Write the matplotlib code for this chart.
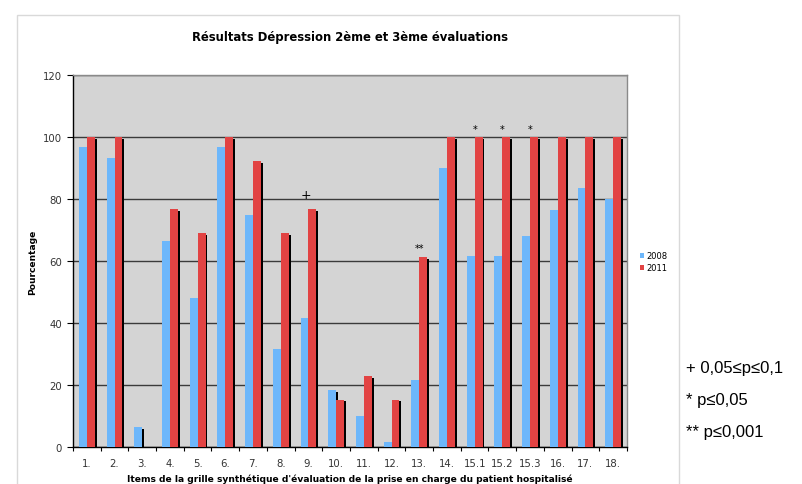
"""Résultats Dépression : comparaison 2008 / 2011 par item de la grille."""

import matplotlib

matplotlib.use("Agg")
import matplotlib.pyplot as plt
import numpy as np
from matplotlib.patches import Rectangle

items = ["1.", "2.", "3.", "4.", "5.", "6.", "7.", "8.", "9.", "10.",
         "11.", "12.", "13.", "14.", "15.1", "15.2", "15.3", "16.", "17.", "18."]
values_2008 = [96.7, 93.2, 6.3, 66.4, 48.2, 96.7, 74.9, 31.5, 41.7, 18.3,
               10.1, 1.7, 21.6, 89.9, 61.6, 61.6, 68.2, 76.6, 83.4, 80.0]
values_2011 = [100, 100, 0, 76.8, 69.1, 100, 92.2, 69.1, 76.8, 15.3,
               23.0, 15.3, 61.3, 100, 100, 100, 100, 100, 100, 100]
# marques de significativité : (item, symbole, hauteur)
signif_marks = [("9.", "+", 79.5), ("13.", "**", 62.5),
                ("15.1", "*", 101.0), ("15.2", "*", 101.0), ("15.3", "*", 101.0)]
signif_legend = ["+ 0,05≤p≤0,1", "* p≤0,05", "** p≤0,001"]

BLUE = "#6db7fb"
RED = "#e24343"
BG = "#d4d4d4"

fig = plt.figure(figsize=(8.03, 4.85), dpi=100)
fig.patches.append(Rectangle((17 / 803, -0.1), (679 - 17) / 803, 1.1 - 16 / 485,
                             transform=fig.transFigure, facecolor="none",
                             edgecolor="#d9d9d9", linewidth=1.0, zorder=0))

ax = fig.add_axes([73 / 803, 37 / 485, 554 / 803, 372 / 485])
ax.set_facecolor(BG)

x = np.arange(len(items)) + 0.5
width = 0.285
shadow_dx = 0.07

for offset, vals, color in ((-width / 2, values_2008, BLUE), (width / 2, values_2011, RED)):
    vals = np.array(vals, dtype=float)
    shadow = np.where(vals > 0, vals - 0.6, 0)
    ax.bar(x + offset + shadow_dx, shadow, width, color="black", zorder=2)
    ax.bar(x + offset, vals, width, color=color, zorder=3,
           label="2008" if color == BLUE else "2011")

for item, symbol, y in signif_marks:
    i = items.index(item)
    ax.text(x[i] - (0.1 if symbol == "+" else 0), y, symbol, ha="center", va="bottom",
            fontsize=9 if symbol == "+" else 7, color="black", zorder=4)

ax.set_xlim(0, len(items))
ax.set_ylim(0, 120)
ax.set_yticks(range(0, 121, 20))
ax.yaxis.grid(True, color="#3a3a3a", linewidth=1.0, zorder=1)
ax.set_axisbelow(True)

ax.set_xticks(np.arange(len(items) + 1), minor=False)
ax.set_xticklabels([])
ax.set_xticks(x, minor=True)
ax.set_xticklabels(items, minor=True, fontsize=7.3, color="#333333")
ax.tick_params(axis="x", which="minor", length=0, pad=8)
ax.tick_params(axis="x", which="major", length=3, direction="out", color="black")
ax.tick_params(axis="y", length=4, direction="out", labelsize=7.3, labelcolor="#333333", pad=4)

for side in ("left", "bottom"):
    ax.spines[side].set_color("black")
    ax.spines[side].set_linewidth(1.0)
for side in ("top", "right"):
    ax.spines[side].set_color("#8a8a8a")
    ax.spines[side].set_linewidth(1.0)

ax.set_title("Résultats Dépression 2ème et 3ème évaluations", fontsize=8.4,
             fontweight="bold", pad=25)
ax.set_xlabel("Items de la grille synthétique d'évaluation de la prise en charge du patient hospitalisé",
              fontsize=6.6, fontweight="bold", labelpad=4)
ax.set_ylabel("Pourcentage", fontsize=6.6, fontweight="bold", labelpad=4)

ax.legend(loc="upper left", bbox_to_anchor=(636 / 803, 1 - 248 / 485),
          bbox_transform=fig.transFigure, frameon=False, fontsize=6,
          handlelength=0.5, handleheight=0.5, handletextpad=0.3, labelspacing=0.4,
          borderpad=0)

for k, line in enumerate(signif_legend):
    fig.text(686 / 803, 1 - (369 + 32 * k) / 485, line, fontsize=12,
             family="Liberation Sans", va="center", ha="left")

fig.savefig("out.png", dpi=100)
